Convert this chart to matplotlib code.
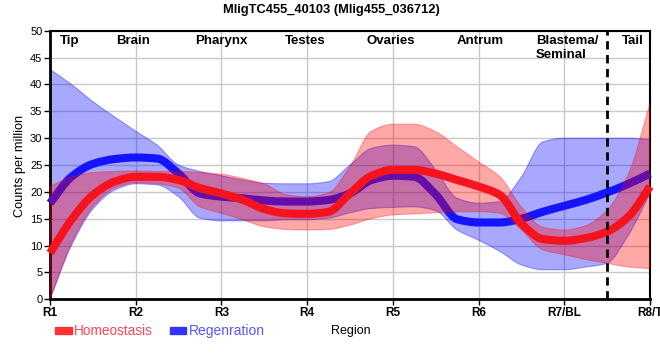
import matplotlib
matplotlib.use("Agg")
import matplotlib.pyplot as plt
from matplotlib.patches import Rectangle, PathPatch
from matplotlib.path import Path
import numpy as np

# ---- data ----
categories = ["R1", "R2", "R3", "R4", "R5", "R6", "R7/BL", "R8/T"]
regions = ["Tip", "Brain", "Pharynx", "Testes", "Ovaries", "Antrum", "Blastema/\nSeminal", "Tail"]
region_pos = [0.23, 0.97, 2.0, 2.98, 3.97, 5.02, 5.67, 6.8]
pos = [0, .25, .5, .75, 1, 1.25, 1.5, 1.75, 2, 2.25, 2.5, 2.75, 3, 3.25, 3.5,
       3.75, 4, 4.25, 4.5, 4.75, 5, 5.25, 5.5, 5.75, 6, 6.25, 6.5, 6.75, 7]

homeo_mean = [8.6, 14.8, 19.4, 21.9, 22.8, 22.8, 22.2, 20.7, 19.7, 18.5, 16.8, 16.0, 15.9, 16.3, 19.7,
              23.0, 24.1, 24.1, 23.4, 22.2, 21.0, 19.4, 14.1, 11.2, 10.9, 11.4, 12.6, 15.4, 21.0]
homeo_upper = [21.0, 22.8, 23.6, 23.8, 23.9, 23.8, 23.8, 23.6, 23.3, 22.5, 21.5, 19.5, 19.1, 19.8, 24.7,
               31.3, 32.6, 32.6, 31.2, 28.4, 25.6, 22.8, 17.2, 13.4, 12.9, 13.7, 16.6, 23.4, 36.5]
homeo_lower = [0.0, 10.4, 17.2, 20.7, 21.7, 21.5, 20.7, 17.2, 16.0, 14.8, 13.5, 13.0, 12.9, 13.0, 13.8,
               15.0, 15.7, 15.9, 16.1, 16.3, 16.3, 16.0, 12.9, 9.2, 8.3, 7.4, 6.7, 6.0, 5.7]

regen_mean = [17.9, 22.8, 25.2, 26.1, 26.4, 26.2, 23.4, 19.7, 19.1, 18.8, 18.4, 18.2, 18.2, 18.5, 19.7,
              22.2, 23.0, 22.8, 19.5, 14.9, 14.3, 14.3, 15.0, 16.3, 17.4, 18.5, 19.9, 21.5, 23.4]
regen_upper = [42.8, 40.0, 36.8, 34.0, 31.3, 28.7, 25.0, 23.8, 23.0, 22.2, 21.6, 21.5, 21.5, 21.9, 25.0,
               28.1, 28.7, 28.4, 24.1, 18.8, 17.9, 18.2, 22.8, 29.3, 30.0, 30.0, 30.0, 30.0, 29.7]
regen_lower = [0.0, 10.0, 16.8, 20.3, 21.5, 21.3, 19.1, 15.1, 14.6, 14.6, 14.6, 14.8, 14.8, 15.1, 16.1,
               16.9, 17.1, 17.2, 16.5, 12.9, 11.0, 8.9, 6.4, 5.5, 5.5, 6.0, 6.7, 12.0, 19.7]

divider = 6.5
yticks = list(range(0, 51, 5))

FONT = ["Liberation Sans", "DejaVu Sans"]


def slopes(x, y):
    x = np.asarray(x, float)
    y = np.asarray(y, float)
    h = np.diff(x)
    d = np.diff(y) / h
    m = np.zeros_like(y)
    for k in range(1, len(y) - 1):
        if d[k - 1] * d[k] > 0:
            w1 = 2 * h[k] + h[k - 1]
            w2 = h[k] + 2 * h[k - 1]
            m[k] = (w1 + w2) / (w1 / d[k - 1] + w2 / d[k])
    m[0] = d[0]
    m[-1] = d[-1]
    return m


def bezier_segments(x, y):
    """control points for a smooth Bezier rendering through the read points"""
    m = slopes(x, y)
    segs = []
    for k in range(len(x) - 1):
        h = x[k + 1] - x[k]
        c1 = (x[k] + h / 3, y[k] + m[k] * h / 3)
        c2 = (x[k + 1] - h / 3, y[k + 1] - m[k + 1] * h / 3)
        segs.append(((x[k], y[k]), c1, c2, (x[k + 1], y[k + 1])))
    return segs


def curve_path(x, y):
    segs = bezier_segments(x, y)
    verts = [segs[0][0]]
    codes = [Path.MOVETO]
    for s in segs:
        verts += [s[1], s[2], s[3]]
        codes += [Path.CURVE4] * 3
    return Path(verts, codes)


def band_path(x, lo, hi):
    up = bezier_segments(x, hi)
    dn = bezier_segments(x, lo)
    verts = [up[0][0]]
    codes = [Path.MOVETO]
    for s in up:
        verts += [s[1], s[2], s[3]]
        codes += [Path.CURVE4] * 3
    verts.append(dn[-1][3])
    codes.append(Path.LINETO)
    for s in reversed(dn):
        verts += [s[2], s[1], s[0]]
        codes += [Path.CURVE4] * 3
    verts.append(verts[0])
    codes.append(Path.CLOSEPOLY)
    return Path(verts, codes)


fig = plt.figure(figsize=(6.6, 3.6), dpi=100)
ax = fig.add_axes([50/660, 1-299.3/360, 600/660, (299.3-30.7)/360])

ax.add_patch(PathPatch(band_path(pos, regen_lower, regen_upper), facecolor=(0, 0, 1, 0.34),
                       edgecolor=(0, 0, 1, 0.35), lw=0.8, zorder=2))
ax.add_patch(PathPatch(curve_path(pos, regen_mean), facecolor="none", edgecolor="#1414ff",
                       lw=5.8, capstyle="butt", zorder=3, clip_on=False))
ax.add_patch(PathPatch(band_path(pos, homeo_lower, homeo_upper), facecolor=(1, 0, 0, 0.34),
                       edgecolor=(1, 0, 0, 0.3), lw=0.8, zorder=4))
ax.add_patch(PathPatch(curve_path(pos, homeo_mean), facecolor="none", edgecolor="#f5141e",
                       lw=5.8, capstyle="butt", zorder=5, clip_on=False))

ax.axvline(divider, color="black", lw=2, ls=(0, (3, 2)), zorder=6)

ax.set_xlim(0, 7)
ax.set_ylim(0, 50)
ax.set_xticks(range(len(categories)))
ax.set_xticklabels(categories, fontfamily=FONT, fontweight="bold", fontsize=8.5)
ax.set_yticks(yticks)
ax.set_yticklabels([str(v) for v in yticks], fontfamily=FONT, fontsize=8)
ax.tick_params(axis="both", direction="out", length=4, width=1, color="black", pad=1.5)
ax.grid(True, color="#c8c8c8", lw=1)
ax.set_axisbelow(True)
for s in ["left", "bottom"]:
    ax.spines[s].set_linewidth(2)
for s in ["top", "right"]:
    ax.spines[s].set_linewidth(1.5)

for name, x in zip(regions, region_pos):
    ha = "left" if "\n" in name else "center"
    ax.text(x, 49.2, name, ha=ha, va="top", fontfamily=FONT,
            fontweight="bold", fontsize=9.5, linespacing=1.2)

fig.text(331/660, 1-10/360, "MligTC455_40103 (Mlig455_036712)", ha="center", va="center",
         fontfamily=FONT, fontweight="bold", fontsize=9.3)
fig.text(20/660, 1-166/360, "Counts per million", rotation=90, ha="center", va="center",
         fontfamily=FONT, fontsize=9.2)
fig.text(351/660, 1-331/360, "Region", ha="center", va="center", fontfamily=FONT, fontsize=9)

# legend
fig.patches.append(Rectangle((55/660, 1-334/360), 17/660, 7/360, transform=fig.transFigure,
                             color="#ff3333"))
fig.text(74/660, 1-331/360, "Homeostasis", ha="left", va="center", fontfamily=FONT,
         fontsize=9.8, color="#ff4455")
fig.patches.append(Rectangle((170/660, 1-334/360), 16/660, 7/360, transform=fig.transFigure,
                             color="#3333ff"))
fig.text(189/660, 1-331/360, "Regenration", ha="left", va="center", fontfamily=FONT,
         fontsize=10, color="#5555ff")

fig.savefig("out.png", dpi=100)
